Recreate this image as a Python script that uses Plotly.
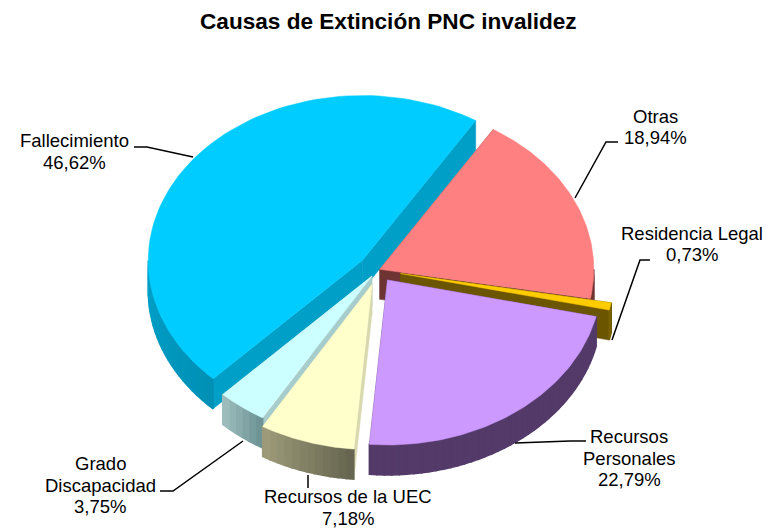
import numpy as np
import plotly.graph_objects as go

# ---- data ----
categories = ["Otras", "Residencia Legal", "Recursos Personales", "Recursos de la UEC",
              "Grado Discapacidad", "Fallecimiento"]
values = [18.94, 0.73, 22.79, 7.18, 3.75, 46.62]
value_labels = ["18,94%", "0,73%", "22,79%", "7,18%", "3,75%", "46,62%"]
top_colors = ["#FF8080", "#FFCC00", "#CC99FF", "#FFFFCC", "#CCFFFF", "#00CCFF"]
face_colors = ["#6E3434", "#6B5500", "#533A69", "#D8D8AE", "#A6CCCC", "#009FC8"]
wall_from = ["#6E3434", "#7A6100", "#533A69", "#9C9A78", "#9CBCBC", "#00A0C8"]
wall_to = ["#6E3434", "#6B5500", "#533A69", "#666650", "#6E9496", "#0090B5"]
explode = [2, 23, 16, 20, 10, 20]

# ---- projection of the pie (plot units are pixels) ----
CX, CY, RX, RY, DEPTH, START = 378, 270, 214, 165, 30, 32.0


def to_xy(cx, cy, deg, r=1.0):
    a = np.radians(deg)
    return cx + RX * r * np.sin(a), cy - RY * r * np.cos(a)


def hexmix(c1, c2, t):
    a = [int(c1[i:i + 2], 16) for i in (1, 3, 5)]
    b = [int(c2[i:i + 2], 16) for i in (1, 3, 5)]
    return "#" + "".join(f"{round(p + (q - p) * t):02X}" for p, q in zip(a, b))


def poly(xs, ys, color, width=0.5):
    return go.Scatter(x=list(xs) + [xs[0]], y=list(ys) + [ys[0]], mode="lines", fill="toself",
                      fillcolor=color, line=dict(color=color, width=width),
                      hoverinfo="skip", showlegend=False)


# angular extent of every slice
shares = np.array(values) / sum(values) * 360
starts = START + np.concatenate([[0], np.cumsum(shares)[:-1]])
ends = starts + shares

fig = go.Figure()
order = [5, 0, 4, 1, 3, 2]  # back to front
for i in order:
    s, e = starts[i], ends[i]
    mid = (s + e) / 2
    ox = CX + explode[i] * np.sin(np.radians(mid))
    oy = CY - explode[i] * np.cos(np.radians(mid)) * RY / RX
    # cut faces
    for edge in (s, e):
        x1, y1 = to_xy(ox, oy, edge)
        fig.add_trace(poly([ox, x1, x1, ox], [oy, y1, y1 + DEPTH, oy + DEPTH], face_colors[i]))
    # outer wall: only the part facing the viewer, drawn as shaded strips
    lo = max(s, 90.0)
    hi = min(e, 270.0)
    if hi > lo:
        n = max(2, int((hi - lo) / 2))
        grid = np.linspace(lo, hi, n + 1)
        for k in range(n):
            a = np.linspace(grid[k], grid[k + 1], 4)
            x, y = to_xy(ox, oy, a)
            t = k / max(1, n - 1)
            # shading runs left to right on screen
            col = hexmix(wall_from[i], wall_to[i], 1 - t)
            fig.add_trace(poly(np.r_[x, x[::-1]], np.r_[y, y[::-1] + DEPTH], col, width=1.5))
    # top
    a = np.linspace(s, e, 80)
    x, y = to_xy(ox, oy, a)
    fig.add_trace(poly(np.r_[ox, x], np.r_[oy, y], top_colors[i]))

# leader lines
leaders = [
    ([134, 147, 193], [147, 147, 157]),
    ([618, 606, 575], [142, 142, 198]),
    ([650, 640, 612], [260, 260, 340]),
    ([586, 570, 515], [441, 441, 443]),
    ([308, 308], [475, 488]),
    ([160, 173, 243], [491, 491, 441]),
]
for lx, ly in leaders:
    fig.add_trace(go.Scatter(x=lx, y=ly, mode="lines", line=dict(color="black", width=1.5),
                             hoverinfo="skip", showlegend=False))

# one annotation per text line, so that the tighter line spacing of the chart can be kept
label_lines = [["Otras"], ["Residencia Legal"], ["Recursos", "Personales"], ["Recursos de la UEC"],
               ["Grado", "Discapacidad"], ["Fallecimiento"]]
label_pos = [(655, 127), (692, 244), (629, 458), (348, 507.5), (100, 485), (74, 151.5)]
LINE_STEP = 21.7
for lines, val, (lx, ly) in zip(label_lines, value_labels, label_pos):
    rows = lines + [val]
    for k, row in enumerate(rows):
        fig.add_annotation(x=lx, y=ly + (k - (len(rows) - 1) / 2) * LINE_STEP, xref="x", yref="y",
                           text=row, showarrow=False, xanchor="center", yanchor="middle",
                           font=dict(family="Liberation Sans", size=18.5, color="black"))

fig.add_annotation(x=388, y=21, xref="x", yref="y", text="<b>Causas de Extinción PNC invalidez</b>",
                   showarrow=False, xanchor="center", yanchor="middle",
                   font=dict(family="Liberation Sans", size=22.6, color="black"))

fig.update_layout(
    width=767, height=530, margin=dict(l=0, r=0, t=0, b=0),
    paper_bgcolor="white", plot_bgcolor="white", showlegend=False,
    xaxis=dict(range=[0, 767], visible=False, fixedrange=True),
    yaxis=dict(range=[530, 0], visible=False, fixedrange=True),
)
fig.write_html("out.html", config={"displayModeBar": False},
               post_script="document.body.style.margin='0';document.body.style.overflow='hidden';")
